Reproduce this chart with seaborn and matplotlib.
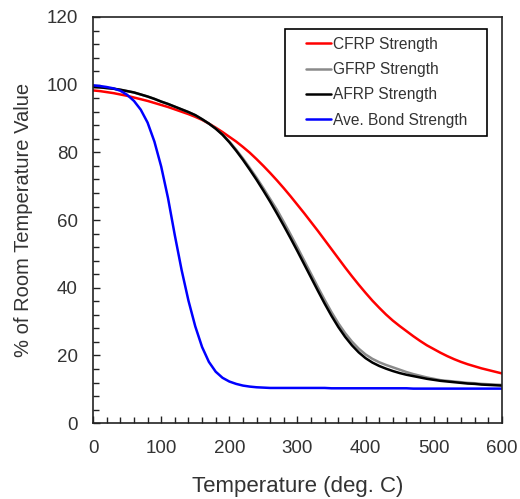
import numpy as np
import seaborn as sns
import matplotlib
matplotlib.use("Agg")
import matplotlib.pyplot as plt
from matplotlib.lines import Line2D
from matplotlib.legend_handler import HandlerLine2D
from matplotlib.ticker import MultipleLocator

# Temperaturas (deg. C) e curvas
temperature = list(range(0, 601, 10))

cfrp = [98.3, 98.1, 97.8, 97.5, 97.1, 96.7, 96.2, 95.7, 95.2, 94.6,
        94.0, 93.4, 92.7, 92.0, 91.3, 90.5, 89.6, 88.5, 87.3, 86.0,
        84.6, 83.2, 81.6, 79.9, 78.0, 76.0, 73.9, 71.7, 69.4, 67.0,
        64.5, 62.0, 59.4, 56.8, 54.1, 51.4, 48.7, 46.0, 43.4, 40.9,
        38.5, 36.2, 34.1, 32.1, 30.3, 28.7, 27.2, 25.7, 24.3, 23.0,
        21.9, 20.8, 19.8, 18.9, 18.1, 17.4, 16.8, 16.2, 15.7, 15.2, 14.7]

gfrp = [99.3, 99.2, 99.0, 98.8, 98.5, 98.1, 97.7, 97.1, 96.5, 95.8,
        95.0, 94.3, 93.5, 92.7, 91.9, 91.0, 89.8, 88.5, 87.0, 85.3,
        83.2, 80.8, 78.2, 75.4, 72.5, 69.4, 66.2, 63.0, 59.4, 55.7,
        51.9, 48.0, 44.1, 40.2, 36.4, 32.8, 29.5, 26.6, 24.1, 22.0,
        20.3, 19.0, 18.0, 17.2, 16.5, 15.8, 15.1, 14.5, 14.0, 13.5,
        13.1, 12.7, 12.5, 12.3, 12.1, 11.9, 11.8, 11.6, 11.5, 11.4, 11.3]

afrp = [99.3, 99.2, 99.0, 98.8, 98.5, 98.1, 97.7, 97.1, 96.5, 95.8,
        95.0, 94.3, 93.5, 92.7, 91.9, 91.0, 89.8, 88.5, 87.0, 85.2,
        83.0, 80.5, 77.8, 74.9, 71.9, 68.7, 65.4, 61.9, 58.3, 54.6,
        50.8, 46.9, 43.0, 39.1, 35.3, 31.7, 28.4, 25.5, 23.0, 20.9,
        19.2, 17.9, 16.9, 16.1, 15.4, 14.8, 14.3, 13.9, 13.5, 13.1,
        12.8, 12.5, 12.3, 12.1, 11.9, 11.7, 11.6, 11.4, 11.3, 11.2, 11.1]

bond = [99.8, 99.6, 99.3, 98.9, 98.2, 97.0, 95.2, 92.6, 88.8, 83.2,
        75.8, 66.5, 55.5, 45.2, 36.2, 28.6, 22.5, 18.1, 15.2, 13.4,
        12.3, 11.6, 11.1, 10.8, 10.6, 10.5, 10.4, 10.4, 10.4, 10.4,
        10.4, 10.4, 10.4, 10.4, 10.4, 10.3, 10.3, 10.3, 10.3, 10.3,
        10.3, 10.3, 10.3, 10.3, 10.3, 10.3, 10.3, 10.2, 10.2, 10.2,
        10.2, 10.2, 10.2, 10.2, 10.2, 10.2, 10.2, 10.2, 10.2, 10.2, 10.2]

series = [("CFRP Strength", cfrp, "#ff0000"),
          ("GFRP Strength", gfrp, "#8a8a8a"),
          ("AFRP Strength", afrp, "#000000"),
          ("Ave. Bond Strength", bond, "#0000ff")]


class PaddedLine(HandlerLine2D):
    # linha da legenda com um recuo a esquerda
    def get_xdata(self, legend, xdescent, ydescent, width, height, fontsize):
        xdata = np.array([-xdescent + 0.85 * fontsize, -xdescent + width])
        return xdata, xdata


sns.set_style("ticks")
plt.rcParams['font.family'] = ['Liberation Sans', 'DejaVu Sans']

fig = plt.figure(figsize=(5.2, 4.99), dpi=100)
ax = fig.add_axes([0.179, 0.152, 0.786, 0.814])

for name, vals, cor in series:
    sns.lineplot(x=temperature, y=vals, color=cor, label=name, linewidth=1.8, ax=ax)

ax.set_xlim(0, 600)
ax.set_ylim(0, 120)
ax.xaxis.set_major_locator(MultipleLocator(100))
ax.xaxis.set_minor_locator(MultipleLocator(20))
ax.yaxis.set_major_locator(MultipleLocator(20))
ax.yaxis.set_minor_locator(MultipleLocator(4))
ax.tick_params(which='both', direction='in', width=1.0, colors='#222222', labelcolor='#333333')
ax.tick_params(which='major', length=5)
ax.tick_params(which='minor', length=4)
ax.tick_params(axis='x', which='major', labelsize=13.5, pad=12)
ax.tick_params(axis='y', which='major', labelsize=13.5, pad=11)
for s in ax.spines.values():
    s.set_visible(True)
    s.set_linewidth(1.2)
    s.set_color('#222222')

ax.set_xlabel('Temperature (deg. C)', fontsize=16, color='#333333')
ax.set_ylabel('% of Room Temperature Value', fontsize=14.5, color='#333333')
ax.xaxis.set_label_coords(0.5, -0.155)
ax.xaxis.label.set_va('center')
ax.yaxis.set_label_coords(-0.171, 0.5)
ax.yaxis.label.set_va('center')

leg = ax.legend(loc='upper left', bbox_to_anchor=(0.469, 0.707, 0.494, 0.263),
                mode='expand', borderaxespad=0, fontsize=11.2, frameon=True,
                fancybox=False, edgecolor='#000000', framealpha=1,
                borderpad=0.5, labelspacing=0.66, handlelength=2.5,
                handletextpad=0.1, handler_map={Line2D: PaddedLine()})
leg.get_frame().set_linewidth(1.2)
for t in leg.get_texts():
    t.set_color('#333333')

plt.savefig("out.png", dpi=100)
